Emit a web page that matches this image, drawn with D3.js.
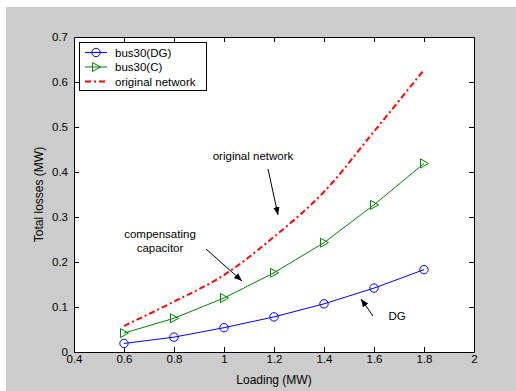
<!DOCTYPE html>
<html>
<head>
<meta charset="utf-8">
<script src="https://cdn.jsdelivr.net/npm/d3@7"></script>
<style>
  html, body { margin: 0; padding: 0; background: #ffffff; }
  svg { display: block; font-family: "Liberation Sans", Arial, sans-serif; }
</style>
</head>
<body>
<script>
// Loading levels (MW) and total losses (MW) for each case
const loading = [0.6, 0.8, 1.0, 1.2, 1.4, 1.6, 1.8];
const lossDG = [0.019, 0.033, 0.054, 0.078, 0.107, 0.142, 0.183];
const lossCap = [0.042, 0.075, 0.120, 0.176, 0.243, 0.327, 0.419];
const lossOriginal = [0.058, 0.112, 0.171, 0.256, 0.356, 0.490, 0.627];

const xTicks = [0.4, 0.6, 0.8, 1, 1.2, 1.4, 1.6, 1.8, 2];
const yTicks = [0, 0.1, 0.2, 0.3, 0.4, 0.5, 0.6, 0.7];

const seriesNames = ["bus30(DG)", "bus30(C)", "original network"];

const W = 516, H = 391;
const plot = { left: 74, top: 37, right: 474, bottom: 352 };

const svg = d3.select("body").append("svg").attr("width", W).attr("height", H);

// figure background
svg.append("rect").attr("x", 6).attr("y", 7).attr("width", W - 6).attr("height", H - 7)
  .attr("fill", "#cccccc");

// axes background
svg.append("rect").attr("x", plot.left).attr("y", plot.top)
  .attr("width", plot.right - plot.left).attr("height", plot.bottom - plot.top)
  .attr("fill", "#ffffff");

const x = d3.scaleLinear().domain([0.4, 2]).range([plot.left, plot.right]);
const y = d3.scaleLinear().domain([0, 0.7]).range([plot.bottom, plot.top]);

const fmt = d => String(+d.toFixed(1));

// axes with inward ticks on all four sides
const axB = svg.append("g").attr("transform", `translate(0,${plot.bottom})`)
  .call(d3.axisBottom(x).tickValues(xTicks).tickSizeInner(-5).tickSizeOuter(0).tickPadding(4).tickFormat(fmt));
const axT = svg.append("g").attr("transform", `translate(0,${plot.top})`)
  .call(d3.axisTop(x).tickValues(xTicks).tickSizeInner(-5).tickSizeOuter(0).tickFormat(""));
const axL = svg.append("g").attr("transform", `translate(${plot.left},0)`)
  .call(d3.axisLeft(y).tickValues(yTicks).tickSizeInner(-5).tickSizeOuter(0).tickPadding(6).tickFormat(fmt));
const axR = svg.append("g").attr("transform", `translate(${plot.right},0)`)
  .call(d3.axisRight(y).tickValues(yTicks).tickSizeInner(-5).tickSizeOuter(0).tickFormat(""));

[axB, axT, axL, axR].forEach(a => {
  a.select(".domain").attr("stroke", "#000").attr("stroke-width", 1);
  a.selectAll(".tick line").attr("stroke", "#000");
  a.selectAll("text").attr("fill", "#000").attr("font-size", 11.5)
    .attr("font-family", "Liberation Sans, Arial, sans-serif");
});
axB.selectAll("text").attr("dy", "0.6em");
axB.selectAll(".tick").filter(d => d === 0.4 || d === 2).select("line").remove();
axT.selectAll(".tick").filter(d => d === 0.4 || d === 2).select("line").remove();
axL.selectAll(".tick").filter(d => d === 0 || d === 0.7).select("line").remove();
axR.selectAll(".tick").filter(d => d === 0 || d === 0.7).select("line").remove();

// axis titles
svg.append("text").attr("x", (plot.left + plot.right) / 2).attr("y", 384)
  .attr("text-anchor", "middle").attr("font-size", 12).text("Loading (MW)");
svg.append("text").attr("transform", `translate(43,${(plot.top + plot.bottom) / 2}) rotate(-90)`)
  .attr("text-anchor", "middle").attr("font-size", 12).text("Total losses (MW)");

const line = d3.line().x(d => x(d[0])).y(d => y(d[1]));
const smoothLine = d3.line().x(d => x(d[0])).y(d => y(d[1])).curve(d3.curveMonotoneX);
const ptsDG = loading.map((l, i) => [l, lossDG[i]]);
const ptsCap = loading.map((l, i) => [l, lossCap[i]]);
const ptsOrig = loading.map((l, i) => [l, lossOriginal[i]]);

const blue = "#0000ff", green = "#008000", red = "#ff0000";

// original network: dash-dot, no markers
svg.append("path").attr("d", smoothLine(ptsOrig)).attr("fill", "none")
  .attr("stroke", red).attr("stroke-width", 2).attr("stroke-dasharray", "6,3,2,3");

// capacitor case with right-pointing triangles
svg.append("path").attr("d", line(ptsCap)).attr("fill", "none")
  .attr("stroke", green).attr("stroke-width", 1);
const triPath = "M-3.5,-4.5 L4.5,0 L-3.5,4.5 Z";
svg.selectAll(".tri").data(ptsCap).enter().append("path")
  .attr("transform", d => `translate(${x(d[0])},${y(d[1])})`)
  .attr("d", triPath).attr("fill", "none").attr("stroke", green).attr("stroke-width", 1);

// DG case with circles
svg.append("path").attr("d", line(ptsDG)).attr("fill", "none")
  .attr("stroke", blue).attr("stroke-width", 1);
svg.selectAll(".circ").data(ptsDG).enter().append("circle")
  .attr("cx", d => x(d[0])).attr("cy", d => y(d[1])).attr("r", 4.2)
  .attr("fill", "none").attr("stroke", blue).attr("stroke-width", 1);

// annotations with arrows
svg.append("defs").append("marker").attr("id", "head")
  .attr("viewBox", "0 0 10 10").attr("refX", 10).attr("refY", 5)
  .attr("markerWidth", 8).attr("markerHeight", 8).attr("markerUnits", "userSpaceOnUse")
  .attr("orient", "auto")
  .append("path").attr("d", "M0,1 L10,5 L0,9 Z").attr("fill", "#000");

const notes = [
  { lines: ["original network"], tx: 253, ty: 160, from: [268, 169], to: [278, 215] },
  { lines: ["compensating", "capacitor"], tx: 160, ty: 238, from: [206, 249], to: [242, 281] },
  { lines: ["DG"], tx: 397, ty: 320, from: [373, 316], to: [361, 299] }
];
notes.forEach(n => {
  const t = svg.append("text").attr("text-anchor", "middle").attr("font-size", 11.5).attr("fill", "#000");
  n.lines.forEach((s, i) => t.append("tspan").attr("x", n.tx).attr("y", n.ty + i * 14).text(s));
  svg.append("line").attr("x1", n.from[0]).attr("y1", n.from[1]).attr("x2", n.to[0]).attr("y2", n.to[1])
    .attr("stroke", "#000").attr("stroke-width", 1).attr("marker-end", "url(#head)");
});

// legend
const lg = svg.append("g");
lg.append("rect").attr("x", 79.5).attr("y", 42.5).attr("width", 127).attr("height", 48)
  .attr("fill", "#ffffff").attr("stroke", "#000").attr("stroke-width", 1);
const legendRows = [52.5, 67, 81.5];
const colors = [blue, green, red];
seriesNames.forEach((name, i) => {
  const yy = legendRows[i];
  const ln = lg.append("line").attr("x1", 85).attr("x2", 107).attr("y1", yy).attr("y2", yy)
    .attr("stroke", colors[i]).attr("stroke-width", i === 2 ? 2 : 1);
  if (i === 2) ln.attr("stroke-dasharray", "6,3,2,3");
  if (i === 0) lg.append("circle").attr("cx", 96).attr("cy", yy).attr("r", 4.2)
    .attr("fill", "none").attr("stroke", blue);
  if (i === 1) lg.append("path").attr("transform", `translate(96,${yy})`).attr("d", triPath)
    .attr("fill", "none").attr("stroke", green);
  lg.append("text").attr("x", 115).attr("y", yy).attr("dy", "0.35em")
    .attr("font-size", 11.5).attr("fill", "#000").text(name);
});
</script>
</body>
</html>
